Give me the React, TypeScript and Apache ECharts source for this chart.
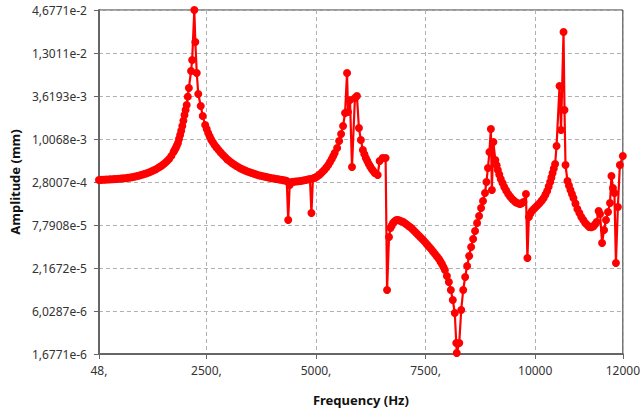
import React, { useEffect, useRef } from "react";
import * as echarts from "echarts";

const freqHz = [
  48, 100, 150, 200, 250, 300, 350, 400, 450, 500,
  550, 600, 650, 700, 750, 800, 850, 900, 950, 1000,
  1050, 1100, 1150, 1200, 1250, 1300, 1350, 1400, 1450, 1500,
  1550, 1600, 1650, 1700, 1750, 1775, 1800, 1825, 1850, 1875,
  1900, 1925, 1950, 1975, 2000, 2025, 2050, 2075, 2100, 2150,
  2175, 2224, 2247, 2280, 2314, 2371, 2416, 2472, 2506, 2540,
  2573, 2607, 2646, 2686, 2731, 2777, 2827, 2878, 2929, 2980,
  3030, 3081, 3132, 3183, 3233, 3284, 3334, 3385, 3436, 3487,
  3537, 3588, 3639, 3690, 3740, 3791, 3842, 3893, 3943, 3994,
  4045, 4096, 4146, 4197, 4248, 4299, 4333, 4366, 4400, 4445,
  4490, 4535, 4591, 4648, 4705, 4761, 4811, 4862, 4896, 4930,
  4970, 5009, 5054, 5099, 5144, 5189, 5235, 5280, 5320, 5359,
  5393, 5426, 5482, 5527, 5573, 5618, 5663, 5708, 5730, 5776,
  5821, 5888, 5934, 5979, 6024, 6069, 6103, 6137, 6170, 6204,
  6238, 6272, 6306, 6340, 6407, 6452, 6520, 6588, 6621, 6666,
  6700, 6728, 6756, 6795, 6835, 6869, 6903, 6948, 6993, 7039,
  7084, 7129, 7174, 7219, 7264, 7309, 7354, 7399, 7444, 7490,
  7535, 7580, 7625, 7670, 7715, 7760, 7805, 7839, 7873, 7907,
  7941, 7986, 8031, 8076, 8121, 8166, 8200, 8211, 8268, 8313,
  8358, 8403, 8448, 8494, 8539, 8584, 8629, 8674, 8720, 8765,
  8810, 8855, 8888, 8922, 8956, 8989, 9012, 9046, 9091, 9120,
  9148, 9181, 9215, 9255, 9294, 9339, 9384, 9429, 9474, 9519,
  9564, 9609, 9654, 9694, 9733, 9790, 9823, 9857, 9890, 9925,
  9970, 10015, 10060, 10105, 10150, 10195, 10235, 10274, 10308, 10342,
  10370, 10398, 10425, 10455, 10488, 10556, 10590, 10647, 10669, 10692,
  10737, 10771, 10805, 10839, 10873, 10918, 10963, 11008, 11053, 11098,
  11143, 11188, 11233, 11278, 11323, 11362, 11402, 11447, 11481, 11526,
  11571, 11616, 11661, 11707, 11740, 11774, 11808, 11842, 11887, 11932,
  12000,
];

const amplitudeMm = [
  2.972e-4, 2.981e-4, 2.99e-4, 3.003e-4, 3.017e-4, 3.03e-4, 3.044e-4, 3.053e-4, 3.062e-4, 3.08e-4,
  3.099e-4, 3.117e-4, 3.136e-4, 3.164e-4, 3.193e-4, 3.231e-4, 3.27e-4, 3.318e-4, 3.368e-4, 3.433e-4,
  3.501e-4, 3.574e-4, 3.65e-4, 3.748e-4, 3.851e-4, 3.972e-4, 4.099e-4, 4.265e-4, 4.442e-4, 4.656e-4,
  4.886e-4, 5.2e-4, 5.553e-4, 6.1e-4, 6.84e-4, 7.25e-4, 7.703e-4, 8.3e-4, 8.939e-4, 1.005e-3,
  1.134e-3, 1.29e-3, 1.482e-3, 1.74e-3, 2.056e-3, 2.38e-3, 2.769e-3, 3.55e-3, 4.592e-3, 7.617e-3,
  1.056e-2, 4.6771e-2, 1.805e-2, 7.176e-3, 3.842e-3, 2.688e-3, 1.996e-3, 1.527e-3, 1.356e-3, 1.204e-3,
  1.093e-3, 9.92e-4, 9.14e-4, 8.42e-4, 7.82e-4, 7.26e-4, 6.74e-4, 6.254e-4, 5.85e-4, 5.47e-4,
  5.19e-4, 4.93e-4, 4.71e-4, 4.509e-4, 4.34e-4, 4.185e-4, 4.06e-4, 3.943e-4, 3.836e-4, 3.737e-4,
  3.654e-4, 3.574e-4, 3.5e-4, 3.429e-4, 3.373e-4, 3.319e-4, 3.269e-4, 3.221e-4, 3.178e-4, 3.136e-4,
  3.099e-4, 3.062e-4, 3.025e-4, 2.99e-4, 2.958e-4, 2.928e-4, 2.885e-4, 9.04e-5, 2.562e-4, 2.801e-4,
  2.822e-4, 2.843e-4, 2.864e-4, 2.885e-4, 2.928e-4, 2.972e-4, 3.016e-4, 3.062e-4, 1.114e-4, 3.108e-4,
  3.17e-4, 3.25e-4, 3.4e-4, 3.553e-4, 3.77e-4, 4.002e-4, 4.31e-4, 4.645e-4, 5.07e-4, 5.553e-4,
  6.07e-4, 6.64e-4, 7.703e-4, 9.486e-4, 1.168e-3, 1.482e-3, 2.183e-3, 7.176e-3, 2.249e-3, 3.213e-3,
  4.377e-4, 3.411e-3, 3.62e-3, 1.397e-3, 9.77e-4, 7.26e-4, 6.4e-4, 5.72e-4, 5.23e-4, 4.786e-4,
  4.44e-4, 4.123e-4, 3.885e-4, 3.66e-4, 3.45e-4, 5.231e-4, 5.72e-4, 5.72e-4, 1.126e-5, 5.45e-5,
  7.124e-5, 7.7e-5, 8.27e-5, 8.7e-5, 9.04e-5, 9.0e-5, 8.906e-5, 8.73e-5, 8.518e-5, 8.15e-5,
  7.789e-5, 7.45e-5, 7.124e-5, 6.71e-5, 6.325e-5, 5.96e-5, 5.616e-5, 5.29e-5, 4.986e-5, 4.66e-5,
  4.36e-5, 4.08e-5, 3.814e-5, 3.54e-5, 3.286e-5, 3.05e-5, 2.833e-5, 2.63e-5, 2.441e-5, 2.23e-5,
  2.042e-5, 1.708e-5, 1.429e-5, 1.126e-5, 8.36e-6, 5.68e-6, 2.327e-6, 1.728e-6, 2.327e-6, 6.21e-6,
  1.126e-5, 1.659e-5, 2.3e-5, 3.097e-5, 4.048e-5, 5.138e-5, 6.516e-5, 8.27e-5, 1.018e-4, 1.292e-4,
  1.591e-4, 2.019e-4, 2.801e-4, 4.248e-4, 6.84e-4, 1.356e-3, 2.208e-4, 9.208e-4, 5.391e-4, 4.6e-4,
  4.002e-4, 3.5e-4, 3.062e-4, 2.72e-4, 2.413e-4, 2.17e-4, 1.96e-4, 1.82e-4, 1.689e-4, 1.6e-4,
  1.522e-4, 1.488e-4, 1.455e-4, 1.49e-4, 1.544e-4, 1.96e-4, 2.918e-5, 9.884e-5, 1.1e-4, 1.181e-4,
  1.254e-4, 1.331e-4, 1.413e-4, 1.5e-4, 1.616e-4, 1.74e-4, 1.93e-4, 2.143e-4, 2.45e-4, 2.801e-4,
  3.2e-4, 3.66e-4, 4.2e-4, 4.786e-4, 8.177e-4, 4.873e-3, 1.316e-3, 2.431e-2, 2.386e-3, 4.645e-4,
  2.885e-4, 2.52e-4, 2.208e-4, 1.955e-4, 1.74e-4, 1.477e-4, 1.254e-4, 1.113e-4, 9.884e-5, 9.04e-5,
  8.27e-5, 7.79e-5, 7.338e-5, 7.3e-5, 7.45e-5, 7.9e-5, 8.518e-5, 1.181e-4, 1.081e-4, 4.558e-5,
  6.713e-5, 9.04e-5, 1.147e-4, 1.5e-4, 3.348e-4, 2.343e-4, 2.019e-4, 2.515e-5, 1.331e-4, 4.645e-4,
  6.071e-4,
];

const yTickValues = [1.6771e-6, 6.0287e-6, 2.1672e-5, 7.7908e-5, 2.8007e-4, 1.0068e-3, 3.6193e-3, 1.3011e-2, 4.6771e-2];
const yTickLabels = ["1,6771e-6", "6,0287e-6", "2,1672e-5", "7,7908e-5", "2,8007e-4", "1,0068e-3", "3,6193e-3", "1,3011e-2", "4,6771e-2"];
const xTickValues = [48, 2500, 5000, 7500, 10000, 12000];
const xTickLabels = ["48,", "2500,", "5000,", "7500,", "10000", "12000"];

const FONT = "'Segoe UI', 'Noto Sans', 'DejaVu Sans', sans-serif";

export default function App() {
  const ref = useRef<HTMLDivElement>(null);

  useEffect(() => {
    document.body.style.margin = "0";
    if (!ref.current) return;
    const chart = echarts.init(ref.current, null, { renderer: "svg" });

    const yMinLog = Math.log10(yTickValues[0]);
    const yMaxLog = Math.log10(yTickValues[yTickValues.length - 1]);
    const steps = yTickValues.length - 1;
    const toY = (a: number) => ((Math.log10(a) - yMinLog) / (yMaxLog - yMinLog)) * steps;

    const n = Math.min(freqHz.length, amplitudeMm.length);
    const data = freqHz.slice(0, n).map((f, i) => [f, toY(amplitudeMm[i])]);

    chart.setOption({
      animation: false,
      backgroundColor: "#ffffff",
      textStyle: { fontFamily: FONT },
      grid: {
        left: 96,
        right: 17,
        top: 10,
        bottom: 60,
        show: true,
        borderColor: "#333",
        borderWidth: 1,
        backgroundColor: "transparent",
      },
      xAxis: {
        type: "value",
        min: 48,
        max: 12000,
        name: "Frequency (Hz)",
        nameLocation: "middle",
        nameGap: 39,
        nameTextStyle: { fontFamily: FONT, fontWeight: "bold", fontSize: 13, color: "#111" },
        axisLine: { show: true, lineStyle: { color: "#666", width: 2 } },
        axisTick: { show: true, length: 5, customValues: xTickValues, lineStyle: { color: "#666" } },
        axisLabel: {
          customValues: xTickValues,
          margin: 10,
          fontSize: 12,
          color: "#333",
          fontFamily: FONT,
          formatter: (v: number) => {
            const i = xTickValues.indexOf(v);
            return i >= 0 ? xTickLabels[i] : String(v);
          },
        },
        splitLine: { show: true, lineStyle: { color: "#b0b0b0", type: [4, 3], width: 1 } },
      },
      yAxis: {
        type: "value",
        min: 0,
        max: steps,
        interval: 1,
        name: "Amplitude (mm)",
        nameLocation: "middle",
        nameGap: 67,
        nameTextStyle: { fontFamily: FONT, fontWeight: "bold", fontSize: 13, color: "#111" },
        axisLine: { show: true, lineStyle: { color: "#666", width: 2 } },
        axisTick: { show: true, length: 5, lineStyle: { color: "#666" } },
        axisLabel: {
          margin: 12,
          fontSize: 12,
          color: "#333",
          fontFamily: FONT,
          formatter: (v: number) => yTickLabels[Math.round(v)] ?? "",
        },
        splitLine: { show: true, lineStyle: { color: "#b0b0b0", type: [4, 3], width: 1 } },
      },
      series: [
        {
          type: "line",
          data,
          clip: false,
          symbol: "circle",
          symbolSize: 8,
          lineStyle: { color: "#ff0000", width: 2.2 },
          itemStyle: { color: "#ff0000" },
        },
      ],
    });

    return () => chart.dispose();
  }, []);

  return <div ref={ref} style={{ width: 643, height: 414 }} />;
}
